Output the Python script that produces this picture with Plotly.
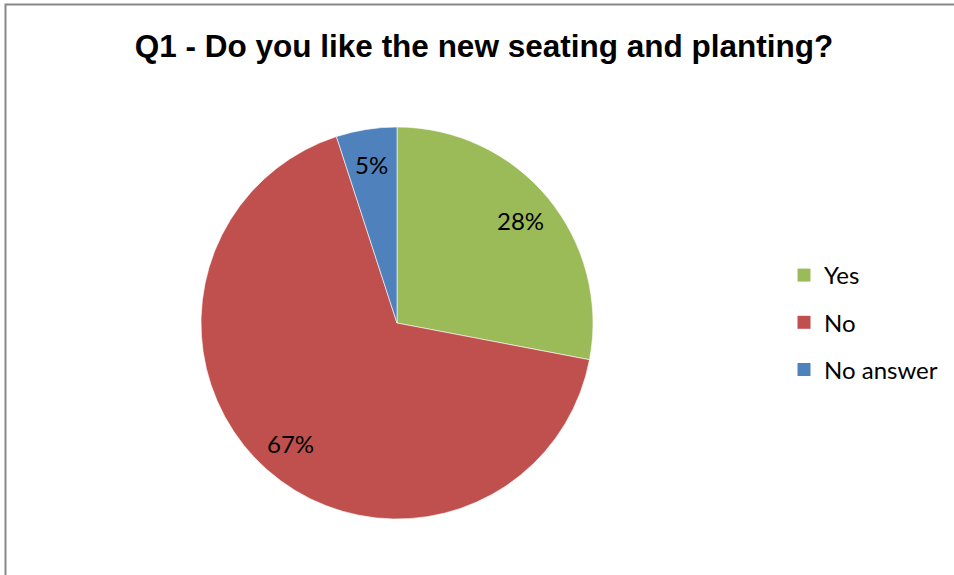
import math
import plotly.graph_objects as go

# Survey answers for question 1
labels = ["Yes", "No", "No answer"]
values = [28, 67, 5]
colors = ["#9BBB59", "#C0504D", "#4F81BD"]
title_text = "Q1 - Do you like the new seating and planting?"

W, H = 954, 575
cx, cy, R = 397, 323, 196  # pie centre and radius in pixels

fig = go.Figure()

fig.add_trace(go.Pie(
    labels=labels,
    values=values,
    marker=dict(colors=colors, line=dict(color="rgba(255,255,255,0.6)", width=1)),
    sort=False,
    direction="clockwise",
    rotation=0,
    textinfo="none",
    hoverinfo="label+percent",
    showlegend=False,
    domain=dict(x=[(cx - R) / W, (cx + R) / W],
                y=[1 - (cy + R) / H, 1 - (cy - R) / H]),
))

# percentage labels placed around 0.82 of the radius, at each slice's mid-angle
total = sum(values)
acc = 0.0
for lab, v in zip(labels, values):
    mid = (acc + v / 2) / total * 2 * math.pi
    acc += v
    px = cx + 0.82 * R * math.sin(mid)
    py = cy - 0.82 * R * math.cos(mid)
    fig.add_annotation(
        x=px / W, y=1 - py / H, xref="paper", yref="paper",
        text=f"{round(v / total * 100)}%", showarrow=False,
        font=dict(family="Lato, Carlito, Calibri, sans-serif", size=24, color="#000000"),
        xanchor="center", yanchor="middle",
    )

# legend entries, one group per category so they can be spaced apart
for i, (lab, col) in enumerate(zip(labels, colors)):
    fig.add_trace(go.Scatter(
        x=[None], y=[None], mode="markers", name=lab,
        marker=dict(symbol="square", size=13, color=col),
        legendgroup=f"g{i}", showlegend=True, hoverinfo="skip",
    ))

fig.update_layout(
    width=W, height=H,
    margin=dict(l=0, r=0, t=0, b=0),
    paper_bgcolor="#FFFFFF",
    plot_bgcolor="#FFFFFF",
    xaxis=dict(visible=False),
    yaxis=dict(visible=False),
    title=dict(
        text=f"<b>{title_text}</b>",
        x=484 / W, xanchor="center",
        y=1 - 46 / H, yanchor="middle", yref="container",
        font=dict(family="Liberation Sans, Arial, sans-serif", size=31.5, color="#000000"),
    ),
    legend=dict(
        x=784 / W, xanchor="left",
        y=1 - 253 / H, yanchor="top",
        font=dict(family="Lato, Carlito, Calibri, sans-serif", size=24, color="#000000"),
        tracegroupgap=13,
        bgcolor="rgba(0,0,0,0)",
        itemclick=False, itemdoubleclick=False,
    ),
    shapes=[dict(
        type="rect", xref="paper", yref="paper",
        x0=5.5 / W, x1=1.05, y0=-0.05, y1=1 - 4.5 / H,
        line=dict(color="#888888", width=2), fillcolor="rgba(0,0,0,0)",
    )],
)

fig.write_html("out.html")
